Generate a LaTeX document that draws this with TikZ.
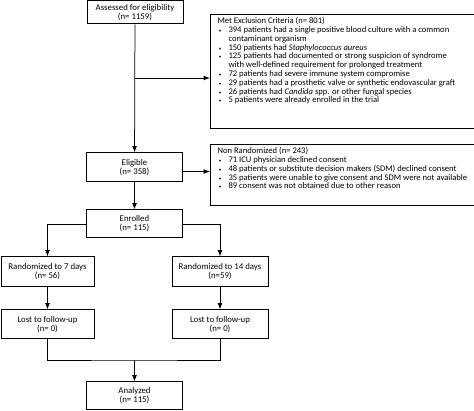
\documentclass[tikz,border=0pt]{standalone}
\usepackage{fontspec}
\setmainfont{Carlito}
\usepackage{tikz}
\usetikzlibrary{arrows.meta}

\newcommand\flowfont{\fontsize{8.8}{9}\selectfont}
\newcommand\listfont{\fontsize{8.6}{8.8}\selectfont}
\newcommand\oneline[1]{\makebox[0pt][l]{#1}}
\newenvironment{bulletlist}{\begin{list}{\makebox[3pt]{\tiny\textbullet}}{\setlength\leftmargin{11pt}\setlength\labelwidth{3pt}\setlength\labelsep{7pt}\setlength\itemsep{0pt}\setlength\parsep{0pt}\setlength\topsep{0pt}}\raggedright\hbadness=10000\hfuzz=20pt}{\end{list}}

\begin{document}
\begin{tikzpicture}[x=1pt, y=-1pt,
  flowbox/.style={font=\flowfont, draw, line width=1pt, minimum width=96, minimum height=29, inner sep=1, align=center},
  listbox/.style={font=\listfont, draw, line width=1pt, anchor=north west, inner xsep=7, inner ysep=3, align=left},
  link/.style={line width=0.75pt}]
\useasboundingbox (0,0) rectangle (474,411);
%main column
\node[flowbox, minimum height=23] (assess) at (135,12.5) {Assessed for eligibility\\(n= 1159)};
\node[flowbox] (elig) at (134.5,167.5) {Eligible\\(n= 358)};
\node[flowbox, minimum height=28] (enrol) at (134.5,224) {Enrolled\\(n= 115)};
\node[flowbox, minimum width=93, minimum height=30] (rand7) at (47.5,272) {Randomized to 7 days\\(n= 56)};
\node[flowbox, minimum height=30] (rand14) at (220,272) {Randomized to 14 days\\(n=59)};
\node[flowbox, minimum width=93] (lost7) at (47.5,324.5) {Lost to follow-up\\(n= 0)};
\node[flowbox] (lost14) at (220,324.5) {Lost to follow-up\\(n= 0)};
\node[flowbox, minimum height=28] (anal) at (134.5,396) {Analyzed\\(n= 115)};
%side boxes
\node[listbox] (excl) at (210,14) {\begin{minipage}[t][108pt][t]{250pt}\listfont
Met Exclusion Criteria (n= 801)
\begin{bulletlist}
\item \oneline{394 patients had a single positive blood culture with a common}\newline \oneline{contaminant organism}
\item \oneline{150 patients had \textit{Staphylococcus aureus}}
\item \oneline{125 patients had documented or strong suspicion of syndrome}\newline \oneline{with well-defined requirement for prolonged treatment}
\item \oneline{72 patients had severe immune system compromise}
\item \oneline{29 patients had a prosthetic valve or synthetic endovascular graft}
\item \oneline{26 patients had \textit{Candida} spp. or other fungal species}
\item \oneline{5 patients were already enrolled in the trial}
\end{bulletlist}
\end{minipage}};
\node[listbox] (nonr) at (210,144) {\begin{minipage}[t][55pt][t]{250pt}\listfont
Non Randomized (n= 243)
\begin{bulletlist}
\item \oneline{71 ICU physician declined consent}
\item \oneline{48 patients or substitute decision makers (SDM) declined consent}
\item \oneline{35 patients were unable to give consent and SDM were not available}
\item \oneline{89 consent was not obtained due to other reason}
\end{bulletlist}
\end{minipage}};
\coordinate (split1) at (135,78);
\coordinate (merge) at (134.5,360);
\draw [link, -Latex] (assess) edge (elig);
\draw [link, -Latex] (split1) -- (split1 -| excl.west);
\draw [link, -Latex] ([yshift=-4]elig.east) -- ([yshift=-4]elig.east -| nonr.west);
\draw [link, -Latex] (elig) edge (enrol);
\draw [link, -Latex] (enrol.west) -| (rand7.north);
\draw [link, -Latex] (enrol.east) -| (rand14.north);
\draw [link, -Latex] (rand7) edge (lost7);
\draw [link, -Latex] (rand14) edge (lost14);
\draw [link] (lost7.south) |- (merge) -| (lost14.south);
\draw [link, -Latex] (merge) -- (anal.north);
\end{tikzpicture}
\end{document}
